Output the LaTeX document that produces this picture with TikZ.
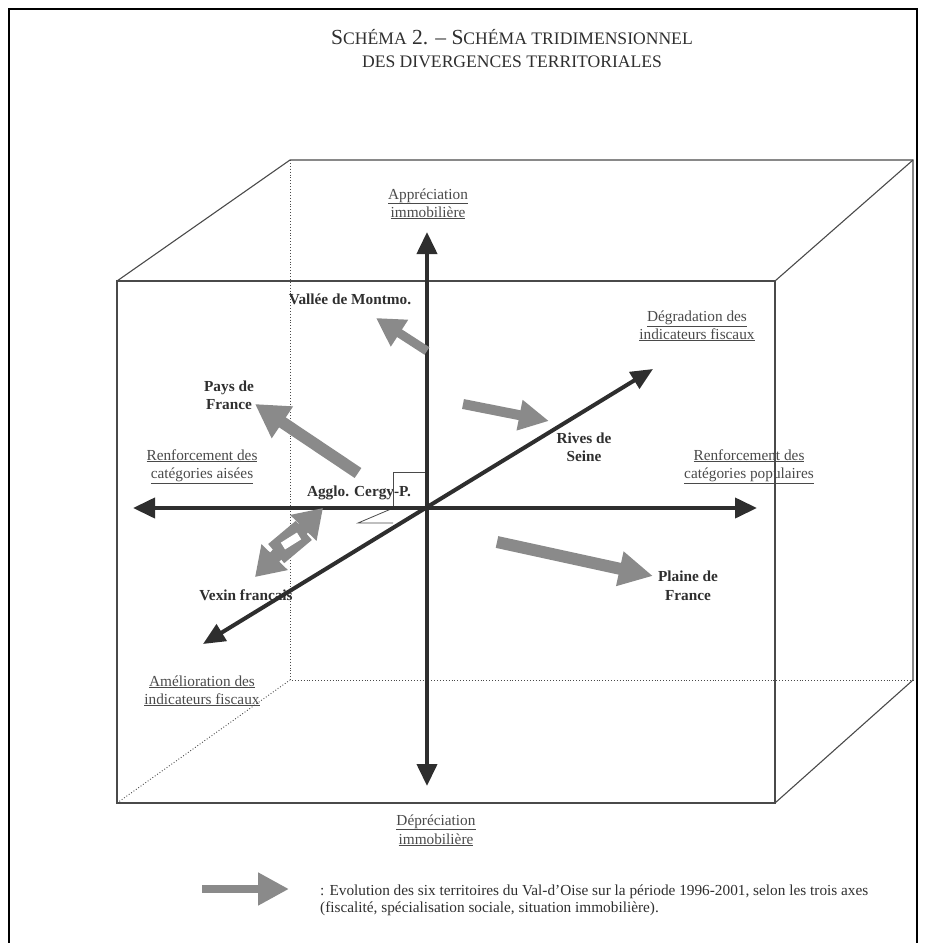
\documentclass[tikz,border=0pt]{standalone}
\usepackage{fontspec}
\setmainfont{Liberation Serif}
\usetikzlibrary{arrows.meta}
\definecolor{axisc}{HTML}{2E2E2E}
\definecolor{arrc}{HTML}{8A8A8A}
\definecolor{txtc}{HTML}{4A4A4A}
\definecolor{boldc}{HTML}{2F2F2F}
\definecolor{cubec}{HTML}{4A4A4A}
\newcommand{\bigsc}[1]{{\fontsize{21.5}{22}\selectfont #1}}
\newcommand{\smsc}[1]{{\fontsize{17.6}{18}\selectfont #1}}
\begin{document}
\begin{tikzpicture}[x=1pt,y=-1pt,
  pageframe/.style={draw=black, line width=1.4pt},
  cube/.style={draw=cubec, line width=1.1pt},
  hid/.style={draw=cubec, line width=0.9pt, dotted},
  axisarrow/.style={draw=axisc, line width=4pt, {Triangle[length=22pt,width=20pt]}-{Triangle[length=22pt,width=20pt]}},
  garrow/.style={draw=arrc, line width=#1},
  lbl/.style={text=txtc, font=\fontsize{15.3}{18}\selectfont, anchor=base, inner sep=0pt},
  bl/.style={text=boldc, font=\fontsize{15.3}{18}\selectfont\bfseries, anchor=base, inner sep=0pt},
  ttl/.style={text=boldc, anchor=base, inner sep=0pt},
  cergymark/.style={draw=cubec, line width=0.8pt}
]
\useasboundingbox (0,0) rectangle (926,943);
% page frame
\coordinate (fbl) at (9,943);
\coordinate (ftl) at (9,9);
\coordinate (ftr) at (917,9);
\coordinate (fbr) at (917,943);
\draw[pageframe] (fbl) -- (ftl) -- (ftr) -- (fbr);

% title
\node[ttl] (t1) at (512,44) {\bigsc{S}\smsc{CHÉMA}\bigsc{ 2. – S}\smsc{CHÉMA TRIDIMENSIONNEL}};
\node[ttl] (t2) at (512,67) {\smsc{DES DIVERGENCES TERRITORIALES}};

% cube
\coordinate (f1) at (117,281);
\coordinate (f2) at (775,281);
\coordinate (f3) at (775,803);
\coordinate (f4) at (117,803);
\coordinate (b1) at (290,160);
\coordinate (b2) at (913,160);
\coordinate (b3) at (913,680);
\coordinate (b4) at (290,680);
\draw[hid] (b1) -- (b4) -- (b3);
\draw[hid] (f4) -- (b4);
\draw[cube] (f1) -- (f2) -- (f3) -- (f4) -- cycle;
\draw[cube] (f1) -- (b1) -- (b2) -- (b3) -- (f3);
\draw[cube] (f2) -- (b2);

% labels
\node[lbl] (appr1) at (428,199) {\underline{Appréciation}};
\node[lbl] (appr2) at (428,217) {\underline{immobilière}};
\node[lbl] (depr1) at (436,825) {\underline{Dépréciation}};
\node[lbl] (depr2) at (436,844) {\underline{immobilière}};
\node[lbl] (degr1) at (697,321) {\underline{Dégradation des}};
\node[lbl] (degr2) at (697,339) {\underline{indicateurs fiscaux}};
\node[lbl] (rl1) at (202,460) {\underline{Renforcement des}};
\node[lbl] (rl2) at (202,478) {\underline{catégories aisées}};
\node[lbl] (rr1) at (749,460) {\underline{Renforcement des}};
\node[lbl] (rr2) at (749,478) {\underline{catégories populaires}};
\node[lbl] (am1) at (202,686) {\underline{Amélioration des}};
\node[lbl] (am2) at (202,704) {\underline{indicateurs fiscaux}};

\node[bl] (vall) at (350,304) {Vallée de Montmo.};
\node[bl] (pays1) at (229,391) {Pays de};
\node[bl] (pays2) at (229,409) {France};
\node[bl] (rive1) at (584,443) {Rives de};
\node[bl] (rive2) at (584,461) {Seine};
\node[bl] (aggl) at (359,496) {Agglo. Cergy-P.};
\node[bl] (vexn) at (246,600) {Vexin français};
\node[bl] (plai1) at (688,581) {Plaine de};
\node[bl] (plai2) at (688,600) {France};

% Cergy marker
\coordinate (c1) at (393,508);
\coordinate (c2) at (393,472);
\coordinate (c3) at (427,472);
\coordinate (c4) at (391,509);
\coordinate (c5) at (358,523);
\coordinate (c6) at (393,523);
\draw[cergymark] (c1) -- (c2) -- (c3);
\draw[cergymark] (c4) -- (c5) -- (c6);

% axes
\coordinate (O) at (427,508);
\coordinate (aT) at (427,232);
\coordinate (aB) at (427,786);
\coordinate (aL) at (133,508);
\coordinate (aR) at (757,508);
\coordinate (dL) at (203,644);
\coordinate (dR) at (653,369);
\draw[axisarrow] (aB) -- (aT);
\draw[axisarrow] (aL) -- (aR);
\draw[axisarrow, {Triangle[length=22pt,width=19pt]}-{Triangle[length=22pt,width=19pt]}] (dL) -- (dR);

% evolution arrows
\coordinate (vs) at (427,351);
\coordinate (ve) at (376,318);
\draw[garrow=9pt, -{Triangle[length=28pt,width=30pt]}] (vs) -- (ve);
\coordinate (ps) at (358,473);
\coordinate (pe) at (255,404);
\draw[garrow=12pt, -{Triangle[length=33pt,width=36pt]}] (ps) -- (pe);
\coordinate (rs) at (463,404);
\coordinate (re) at (549,421);
\draw[garrow=10pt, -{Triangle[length=30pt,width=29pt]}] (rs) -- (re);
\coordinate (ls) at (497,542);
\coordinate (le) at (653,576);
\draw[garrow=12pt, -{Triangle[length=34pt,width=33pt]}] (ls) -- (le);
% Vexin double arrow
\coordinate (xa) at (255,577);
\coordinate (xb) at (323,508);
\draw[garrow=13pt, {Triangle[length=28pt,width=35pt]}-{Triangle[length=28pt,width=35pt]}] (xa) -- (xb);
\node[fill=arrc, draw=none, rotate=40, minimum width=36pt, minimum height=25pt, inner sep=0pt] (xbody) at (290,542) {};
\node[fill=white, draw=none, rotate=32, minimum width=19pt, minimum height=8pt, inner sep=0pt] (xhole) at (291,541) {};

% legend
\coordinate (ga) at (202,889);
\coordinate (gb) at (289,889);
\draw[garrow=8pt, -{Triangle[length=31pt,width=31pt]}] (ga) -- (gb);
\node[lbl, anchor=base west, text=boldc] (leg1) at (320,895) {: Evolution des six territoires du Val-d’Oise sur la période 1996-2001, selon les trois axes};
\node[lbl, anchor=base west, text=boldc] (leg2) at (320,912) {(fiscalité, spécialisation sociale, situation immobilière).};
\end{tikzpicture}
\end{document}
